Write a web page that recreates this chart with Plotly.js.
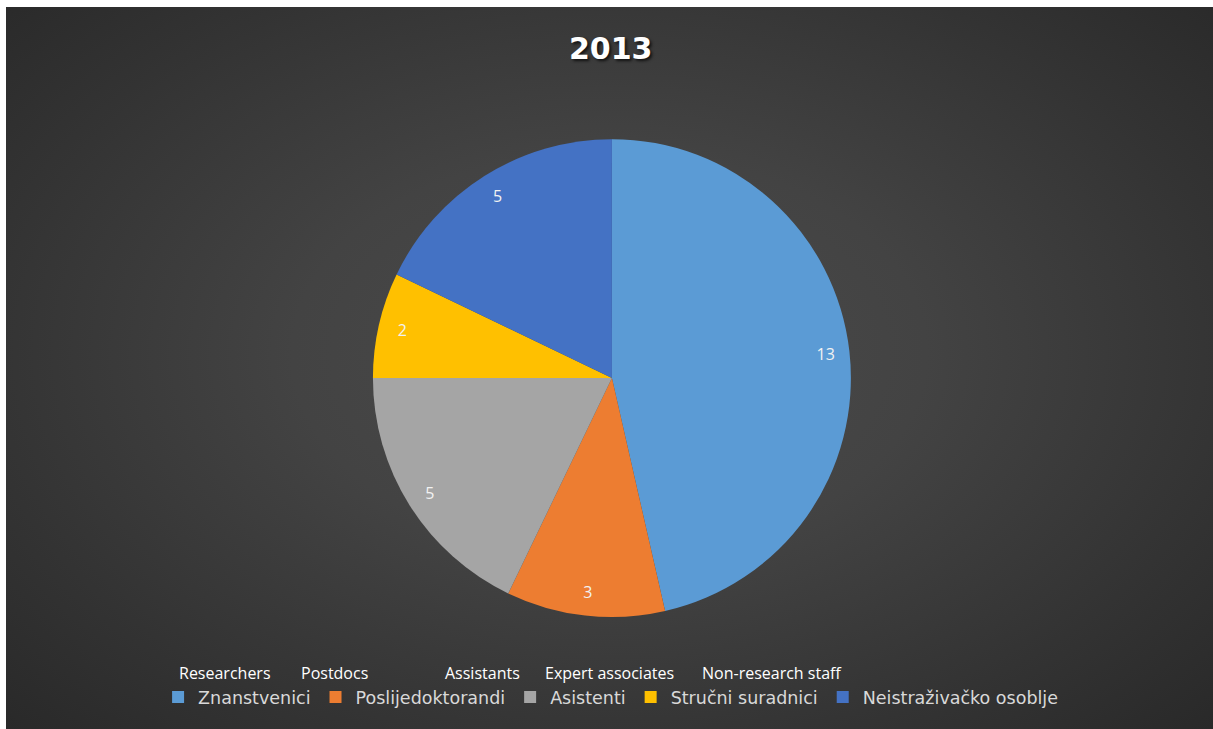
<!DOCTYPE html>
<html>
<head>
<meta charset="utf-8">
<script src="https://cdn.plot.ly/plotly-3.0.1.min.js"></script>
<style>
  html, body { margin: 0; padding: 0; background: #ffffff; width: 1213px; height: 729px; overflow: hidden; }
  #chart {
    position: absolute; left: 6px; top: 7px; width: 1207px; height: 722px;
    background: radial-gradient(ellipse 75% 80% at 50% 48%, #4b4b4b 0%, #434343 35%, #333333 70%, #262626 100%);
  }
</style>
</head>
<body>
<div id="chart"></div>
<script>
const chartTitle = "2013";
const categories = ["Znanstvenici", "Poslijedoktorandi", "Asistenti", "Stručni suradnici", "Neistraživačko osoblje"];
const englishLabels = ["Researchers", "Postdocs", "Assistants", "Expert associates", "Non-research staff"];
const values = [13, 3, 5, 2, 5];
const colors = ["#5b9bd5", "#ed7d31", "#a5a5a5", "#ffc000", "#4472c4"];

const pieDomain = { x: [0.2, 0.804], y: [0.155, 0.817] };

const mainPie = {
  type: "pie",
  labels: categories,
  values: values,
  sort: false,
  direction: "clockwise",
  rotation: 0,
  domain: pieDomain,
  marker: { colors: colors, line: { width: 0 } },
  textinfo: "none",
  hoverinfo: "label+value",
  showlegend: true
};

const labelRing = {
  type: "pie",
  labels: categories,
  values: values,
  sort: false,
  direction: "clockwise",
  rotation: 0,
  hole: 0.8,
  domain: pieDomain,
  marker: { colors: categories.map(() => "rgba(0,0,0,0)"), line: { width: 0 } },
  textinfo: "value",
  textposition: "inside",
  insidetextorientation: "horizontal",
  textfont: { family: "Open Sans, sans-serif", size: 16, color: "#f2f2f2" },
  hoverinfo: "skip",
  showlegend: false
};

const englishX = [0.1417, 0.2428, 0.3621, 0.4449, 0.575];
const annotations = englishLabels.map((t, i) => ({
  text: t, xref: "paper", yref: "paper", x: englishX[i], y: 0.0776,
  xanchor: "left", yanchor: "middle", showarrow: false,
  font: { family: "Open Sans, sans-serif", size: 16, color: "#ffffff" }
}));

const layout = {
  width: 1207, height: 722,
  margin: { l: 0, r: 0, t: 0, b: 0 },
  paper_bgcolor: "rgba(0,0,0,0)",
  plot_bgcolor: "rgba(0,0,0,0)",
  title: {
    text: "<b>" + chartTitle + "</b>",
    x: 0.501, xanchor: "center", y: 0.943, yanchor: "middle",
    font: { family: "DejaVu Sans, sans-serif", size: 30, color: "#ffffff", shadow: "2px 2px 3px rgba(0,0,0,0.7)" }
  },
  showlegend: true,
  legend: {
    orientation: "h",
    x: 0.126, xanchor: "left", y: 0.044, yanchor: "middle",
    font: { family: "DejaVu Sans, sans-serif", size: 17.5, color: "#d9d9d9" },
    bgcolor: "rgba(0,0,0,0)",
    itemwidth: 30,
    traceorder: "normal"
  },
  annotations: annotations
};

Plotly.newPlot("chart", [mainPie, labelRing], layout, { displayModeBar: false, staticPlot: true });
</script>
</body>
</html>
